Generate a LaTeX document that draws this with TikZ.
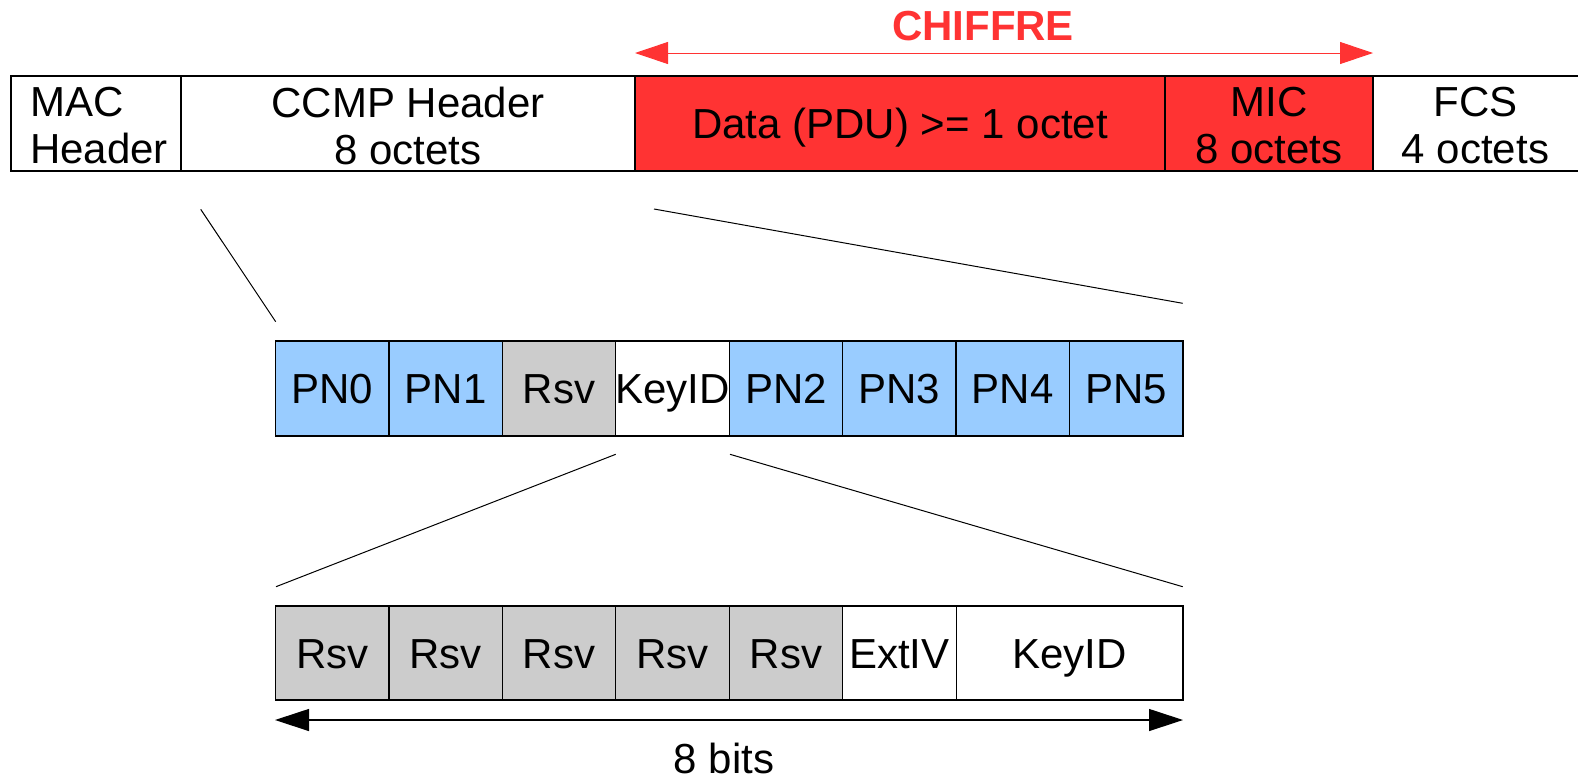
\documentclass[tikz,border=0pt]{standalone}
\usepackage{fontspec}
\setmainfont{Liberation Sans}
\usetikzlibrary{arrows.meta}
\definecolor{cipher}{HTML}{FF3333}
\definecolor{pnblue}{HTML}{99CCFF}
\definecolor{rsvgrey}{HTML}{CCCCCC}
\tikzset{
  cell/.style={draw=black, line width=1.2pt, minimum height=95pt, inner sep=0pt,
    font=\fontsize{42}{47}\selectfont, align=center},
  one/.style={text height=30.2pt, text depth=0pt},
  lbl/.style={inner sep=0pt, font=\fontsize{42}{47}\selectfont},
  pn/.style={cell, one, fill=pnblue, minimum width=113.44pt},
  rsv/.style={cell, one, fill=rsvgrey, minimum width=113.44pt},
  plain/.style={cell, one, fill=white, minimum width=113.44pt},
  zoomline/.style={draw=black, line width=1pt},
  redarrow/.style={draw=cipher, line width=1pt, {Triangle[length=33pt,width=22pt]}-{Triangle[length=33pt,width=22pt]}},
  blackarrow/.style={draw=black, line width=1.2pt, {Triangle[length=34pt,width=22pt]}-{Triangle[length=34pt,width=22pt]}}
}
\begin{document}
\begin{tikzpicture}[x=1pt,y=-1pt]
\useasboundingbox (0,0) rectangle (1578,780);

% top row
\node[cell, fill=white, minimum width=170pt] (mac) at (96,123.5) {};
\node[lbl, anchor=west, align=left] (macl) at (30,125.5) {MAC\\Header};
\node[cell, fill=white, minimum width=454pt] (ccmp) at (408,123.5) {};
\node[lbl, align=center] (ccmpl) at (408,125.5) {CCMP Header\\8 octets};
\node[cell, one, fill=cipher, minimum width=530pt] (data) at (900,123.5) {Data (PDU) >= 1 octet};
\node[cell, fill=cipher, minimum width=208pt] (mic) at (1269,123.5) {};
\node[lbl, align=center] (micl) at (1269,125.5) {MIC\\8 octets};
\node[cell, fill=white, minimum width=222pt] (fcs) at (1484,123.5) {};
\node[lbl, align=center] (fcsl) at (1475.5,125.5) {FCS\\4 octets};

% cipher arrow
\coordinate (cl) at (635,53);
\coordinate (cr) at (1373,53);
\draw[redarrow] (cl) -- (cr);
\node[lbl, text=cipher, font=\fontsize{42}{47}\selectfont\bfseries, anchor=base] (chiffre) at (983,40.7) {CHIFFRE};

% middle row
\node[pn] (p0) at (332.2,388.5) {PN0};
\node[pn] (p1) at (445.7,388.5) {PN1};
\node[rsv] (p2) at (559.1,388.5) {Rsv};
\node[plain] (p3) at (672.5,388.5) {KeyID};
\node[pn] (p4) at (786.0,388.5) {PN2};
\node[pn] (p5) at (899.4,388.5) {PN3};
\node[pn] (p6) at (1012.8,388.5) {PN4};
\node[pn] (p7) at (1126.3,388.5) {PN5};

% bottom row
\node[rsv, minimum height=94pt] (b0) at (332.2,653) {Rsv};
\node[rsv, minimum height=94pt] (b1) at (445.7,653) {Rsv};
\node[rsv, minimum height=94pt] (b2) at (559.1,653) {Rsv};
\node[rsv, minimum height=94pt] (b3) at (672.5,653) {Rsv};
\node[rsv, minimum height=94pt] (b4) at (786.0,653) {Rsv};
\node[plain, minimum height=94pt] (b5) at (899.4,653) {ExtIV};
\node[cell, one, fill=white, minimum height=94pt, minimum width=226.9pt] (b6) at (1069.6,653) {KeyID};

% zoom lines
\coordinate (z1a) at (200.7,209.3);
\coordinate (z1b) at (275.7,321.7);
\coordinate (z2a) at (654,209);
\coordinate (z2b) at (1182.7,303.3);
\coordinate (z3a) at (615.7,454.3);
\coordinate (z3b) at (276,586.7);
\coordinate (z4a) at (730,454.3);
\coordinate (z4b) at (1182.7,586.7);
\draw[zoomline] (z1a) -- (z1b);
\draw[zoomline] (z2a) -- (z2b);
\draw[zoomline] (z3a) -- (z3b);
\draw[zoomline] (z4a) -- (z4b);

% 8 bits arrow
\coordinate (bl) at (275,720);
\coordinate (br) at (1183,720);
\draw[blackarrow] (bl) -- (br);
\node[lbl, anchor=base] (bits) at (724,773.5) {8 bits};
\end{tikzpicture}
\end{document}
